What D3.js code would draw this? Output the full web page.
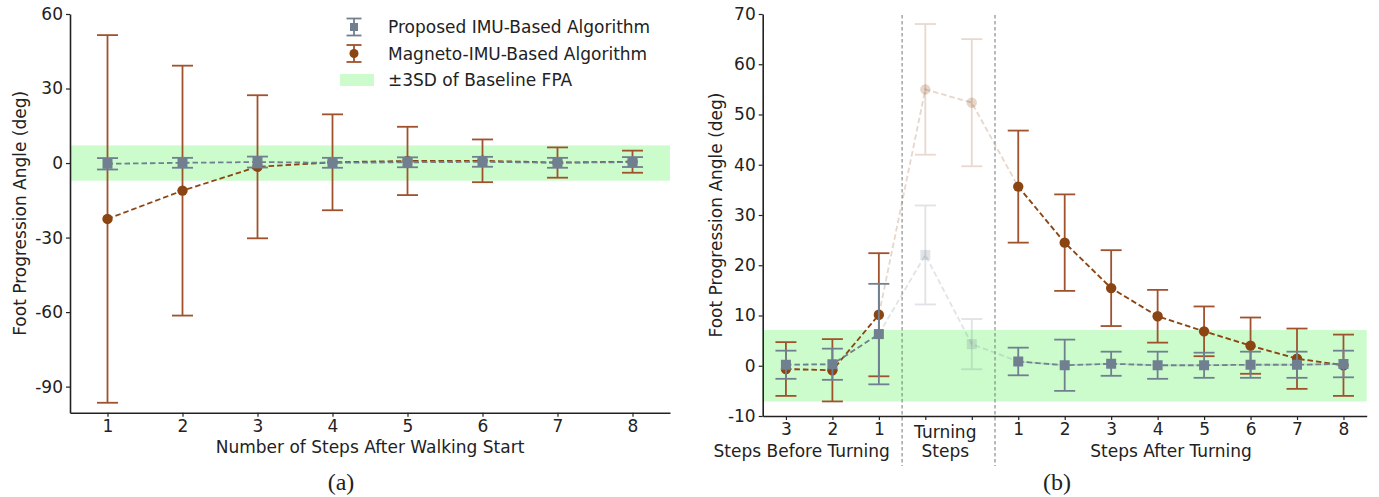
<!DOCTYPE html>
<html>
<head>
<meta charset="utf-8">
<script src="https://cdn.jsdelivr.net/npm/d3@7"></script>
<style>
  body { margin: 0; background: #fff; }
  text { font-family: "DejaVu Sans", sans-serif; fill: #222; }
</style>
</head>
<body>
<svg id="chart" width="1379" height="497"></svg>
<script>
// ---------- data: panel (a) ----------
const stepsA = [1, 2, 3, 4, 5, 6, 7, 8];
const imuMeanA = [-0.3, 0.1, 0.4, 0.1, 0.3, 0.5, 0.1, 0.4];
const imuSdA = [2.3, 2.0, 2.2, 2.0, 2.0, 2.0, 2.0, 2.0];
const magMeanA = [-22.5, -11.1, -1.5, 0.3, 0.85, 0.9, 0.2, 0.55];
const magSdA = [74.0, 50.3, 28.8, 19.3, 13.75, 8.6, 6.1, 4.45];
const yTicksA = [-90, -60, -30, 0, 30, 60];
const bandA = [-7.1, 7.1];

// ---------- data: panel (b) ----------
const positionsB = [0, 1, 2, 3, 4, 5, 6, 7, 8, 9, 10, 11, 12];
const tickLabelsB = ["3", "2", "1", "", "", "1", "2", "3", "4", "5", "6", "7", "8"];
const turningIdx = [3, 4];
const imuMeanB = [0.2, 0.3, 6.3, 22.05, 4.3, 0.85, 0.1, 0.4, 0.1, 0.1, 0.2, 0.2, 0.35];
const imuSdB = [2.8, 3.1, 10.0, 9.85, 5.0, 2.75, 5.1, 2.4, 2.7, 2.5, 2.6, 2.6, 2.65];
const magMeanB = [-0.65, -0.9, 10.15, 55.0, 52.35, 35.65, 24.5, 15.45, 9.85, 6.85, 4.0, 1.4, 0.1];
const magSdB = [5.35, 6.2, 12.25, 13.0, 12.65, 11.15, 9.6, 7.55, 5.25, 4.95, 5.6, 6.0, 6.1];
const yTicksB = [-10, 0, 10, 20, 30, 40, 50, 60, 70];
const bandB = [-7.1, 7.1];
const groupLabelsB = [
  { x: 0.34, lines: ["Steps Before Turning"] },
  { x: 3.43, lines: ["Turning", "Steps"] },
  { x: 8.29, lines: ["Steps After Turning"] }
];
const separatorsB = [2.5, 4.5];

const legendItems = [
  { label: "Proposed IMU-Based Algorithm", type: "imu" },
  { label: "Magneto-IMU-Based Algorithm", type: "mag" },
  { label: "\u00B13SD of Baseline FPA", type: "band" }
];

// ---------- styles ----------
const BROWN = "#8b4513", BROWN_E = "#a0522d", GRAY = "#708090", GREEN = "#ccfccc";
const FADE = 0.22;
const svg = d3.select("#chart");
svg.append("rect").attr("width", 1379).attr("height", 497).attr("fill", "#fff");

function errorBars(g, xs, means, sds, x, y, color, opacityFn) {
  const cap = 10.5;
  xs.forEach((xv, i) => {
    const op = opacityFn(i);
    const eg = g.append("g").attr("opacity", op).attr("stroke", color).attr("stroke-width", 1.8);
    const hi = y(means[i] + sds[i]), lo = y(means[i] - sds[i]), cx = x(xv);
    eg.append("line").attr("x1", cx).attr("x2", cx).attr("y1", hi).attr("y2", lo);
    eg.append("line").attr("x1", cx - cap).attr("x2", cx + cap).attr("y1", hi).attr("y2", hi);
    eg.append("line").attr("x1", cx - cap).attr("x2", cx + cap).attr("y1", lo).attr("y2", lo);
  });
}
function markers(g, xs, means, x, y, color, shape, opacityFn) {
  xs.forEach((xv, i) => {
    const cx = x(xv), cy = y(means[i]);
    if (shape === "circle") {
      g.append("circle").attr("cx", cx).attr("cy", cy).attr("r", 5.2)
        .attr("fill", color).attr("opacity", opacityFn(i));
    } else {
      g.append("rect").attr("x", cx - 5).attr("y", cy - 5).attr("width", 10).attr("height", 10)
        .attr("fill", color).attr("opacity", opacityFn(i));
    }
  });
}
function dashedLine(g, pts, x, y, color, op) {
  const line = d3.line().x(d => x(d[0])).y(d => y(d[1]));
  g.append("path").attr("d", line(pts)).attr("fill", "none").attr("stroke", color)
    .attr("stroke-width", 1.8).attr("stroke-dasharray", "5.5,3").attr("opacity", op);
}
function styleAxis(g) {
  g.selectAll("path.domain").attr("stroke", "#222").attr("stroke-width", 1.6);
  g.selectAll(".tick line").attr("stroke", "#222").attr("stroke-width", 1.2);
  g.selectAll(".tick text").attr("font-size", 17).attr("font-family", "DejaVu Sans").attr("fill", "#222");
}
const fmt = d => (d < 0 ? "-" + Math.abs(d) : String(d));

// ================= Panel (a) =================
{
  const x = d3.scaleLinear().domain([0.5, 8.5]).range([70, 670]);
  const y = d3.scaleLinear().domain([-100.5, 60]).range([412.7, 14]);
  const g = svg.append("g");
  g.append("rect").attr("x", x(0.5)).attr("width", x(8.5) - x(0.5))
    .attr("y", y(bandA[1])).attr("height", y(bandA[0]) - y(bandA[1])).attr("fill", GREEN);

  // magneto
  dashedLine(g, stepsA.map((s, i) => [s, magMeanA[i]]), x, y, BROWN, 1);
  errorBars(g, stepsA, magMeanA, magSdA, x, y, BROWN_E, () => 1);
  markers(g, stepsA, magMeanA, x, y, BROWN, "circle", () => 1);
  // IMU
  dashedLine(g, stepsA.map((s, i) => [s, imuMeanA[i]]), x, y, GRAY, 1);
  errorBars(g, stepsA, imuMeanA, imuSdA, x, y, GRAY, () => 1);
  markers(g, stepsA, imuMeanA, x, y, GRAY, "square", () => 1);

  const ax = g.append("g").attr("transform", `translate(0,${y(-100.5)})`)
    .call(d3.axisBottom(x).tickValues(stepsA).tickFormat(d3.format("d")).tickSize(4).tickSizeOuter(0).tickPadding(3));
  styleAxis(ax);
  const ay = g.append("g").attr("transform", `translate(${x(0.5)},0)`)
    .call(d3.axisLeft(y).tickValues(yTicksA).tickFormat(fmt).tickSize(4).tickSizeOuter(0).tickPadding(3));
  styleAxis(ay);

  g.append("text").attr("x", 370).attr("y", 452.5).attr("text-anchor", "middle")
    .attr("font-size", 17).text("Number of Steps After Walking Start");
  g.append("text").attr("transform", `translate(26,${(14 + 412.7) / 2}) rotate(-90)`)
    .attr("text-anchor", "middle").attr("font-size", 17).text("Foot Progression Angle (deg)");

  // legend
  const lg = g.append("g");
  const rowY = [27, 53.5, 80];
  legendItems.forEach((it, i) => {
    const cy = rowY[i], cx = 354;
    if (it.type === "band") {
      lg.append("rect").attr("x", 340).attr("y", cy - 6).attr("width", 34).attr("height", 12).attr("fill", GREEN);
    } else {
      const col = it.type === "imu" ? GRAY : BROWN_E;
      const e = lg.append("g").attr("stroke", col).attr("stroke-width", 1.8);
      e.append("line").attr("x1", cx).attr("x2", cx).attr("y1", cy - 8.5).attr("y2", cy + 8.5);
      e.append("line").attr("x1", cx - 7.5).attr("x2", cx + 7.5).attr("y1", cy - 8.5).attr("y2", cy - 8.5);
      e.append("line").attr("x1", cx - 7.5).attr("x2", cx + 7.5).attr("y1", cy + 8.5).attr("y2", cy + 8.5);
      if (it.type === "imu") lg.append("rect").attr("x", cx - 4).attr("y", cy - 4).attr("width", 8).attr("height", 8).attr("fill", GRAY);
      else lg.append("circle").attr("cx", cx).attr("cy", cy).attr("r", 4.5).attr("fill", BROWN);
    }
    lg.append("text").attr("x", 388).attr("y", cy).attr("dy", "0.36em").attr("font-size", 17).text(it.label);
  });

  svg.append("text").attr("x", 341).attr("y", 490).attr("text-anchor", "middle")
    .style("font-family", "'Liberation Serif', serif").attr("font-size", 24).text("(a)");
}

// ================= Panel (b) =================
{
  const x = d3.scaleLinear().domain([-0.5, 12.5]).range([762.7, 1366.7]);
  const y = d3.scaleLinear().domain([-10, 70]).range([416, 14]);
  const g = svg.append("g");
  g.append("rect").attr("x", x(-0.5)).attr("width", x(12.5) - x(-0.5))
    .attr("y", y(bandB[1])).attr("height", y(bandB[0]) - y(bandB[1])).attr("fill", GREEN);

  const isTurn = i => turningIdx.includes(i);
  const op = i => (isTurn(i) ? FADE : 1);
  const segs = [[0, 1, 2], [5, 6, 7, 8, 9, 10, 11, 12]];

  // magneto
  dashedLine(g, positionsB.map((p, i) => [p, magMeanB[i]]), x, y, BROWN, FADE);
  segs.forEach(s => dashedLine(g, s.map(i => [positionsB[i], magMeanB[i]]), x, y, BROWN, 1));
  errorBars(g, positionsB, magMeanB, magSdB, x, y, BROWN_E, op);
  markers(g, positionsB, magMeanB, x, y, BROWN, "circle", op);
  // IMU
  dashedLine(g, positionsB.map((p, i) => [p, imuMeanB[i]]), x, y, GRAY, FADE);
  segs.forEach(s => dashedLine(g, s.map(i => [positionsB[i], imuMeanB[i]]), x, y, GRAY, 1));
  errorBars(g, positionsB, imuMeanB, imuSdB, x, y, GRAY, op);
  markers(g, positionsB, imuMeanB, x, y, GRAY, "square", op);

  // separators
  separatorsB.forEach(s => {
    g.append("line").attr("x1", x(s)).attr("x2", x(s)).attr("y1", 15).attr("y2", 466)
      .attr("stroke", "#777").attr("stroke-width", 1).attr("stroke-dasharray", "3.5,2.5");
  });

  const ax = g.append("g").attr("transform", `translate(0,${y(-10)})`)
    .call(d3.axisBottom(x).tickValues(positionsB).tickFormat((d, i) => tickLabelsB[i]).tickSize(4).tickSizeOuter(0).tickPadding(3));
  styleAxis(ax);
  const ay = g.append("g").attr("transform", `translate(${x(-0.5)},0)`)
    .call(d3.axisLeft(y).tickValues(yTicksB).tickFormat(fmt).tickSize(4).tickSizeOuter(0).tickPadding(3));
  styleAxis(ay);

  groupLabelsB.forEach(gl => {
    const rows = gl.lines.length === 1 ? [456.5] : [437.5, 456.5];
    gl.lines.forEach((t, k) => {
      g.append("text").attr("x", x(gl.x)).attr("y", rows[k]).attr("text-anchor", "middle")
        .attr("font-size", 17).text(t);
    });
  });
  g.append("text").attr("transform", `translate(722,${(14 + 416) / 2}) rotate(-90)`)
    .attr("text-anchor", "middle").attr("font-size", 17).text("Foot Progression Angle (deg)");

  svg.append("text").attr("x", 1057).attr("y", 490).attr("text-anchor", "middle")
    .style("font-family", "'Liberation Serif', serif").attr("font-size", 24).text("(b)");
}
</script>
</body>
</html>
